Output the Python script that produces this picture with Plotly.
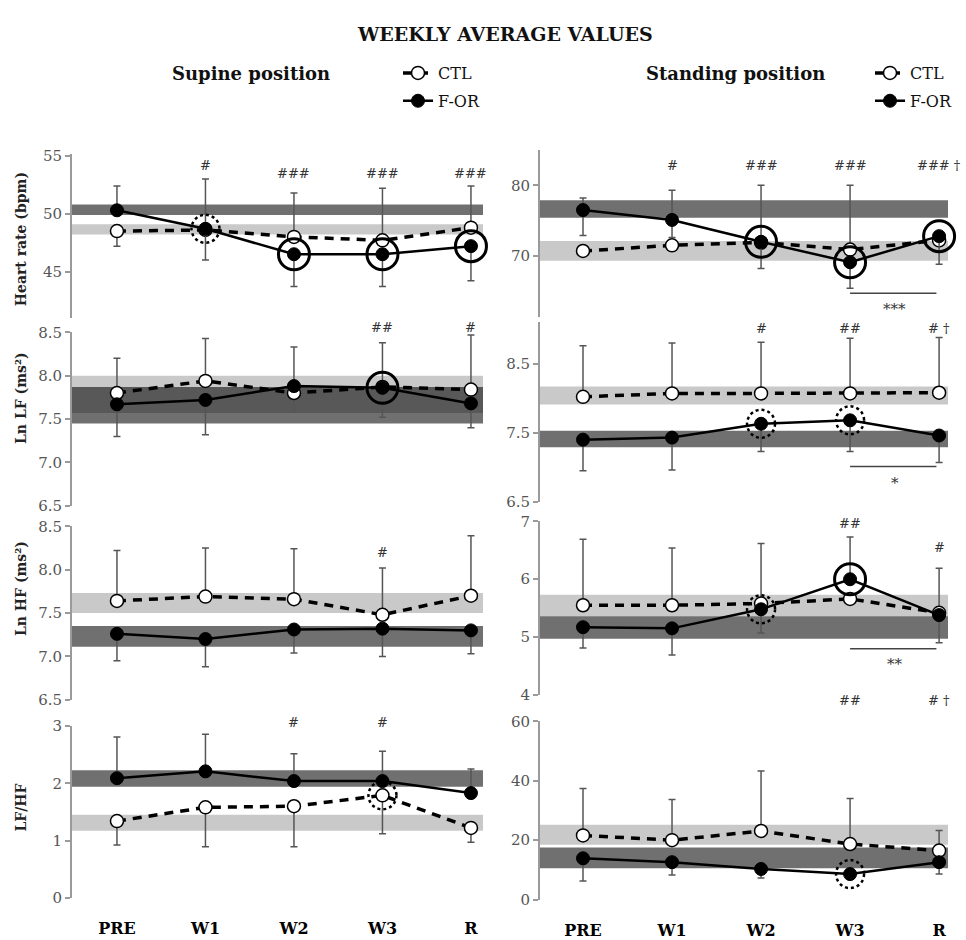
import plotly.graph_objects as go

W, H = 966, 940
categories = ["PRE", "W1", "W2", "W3", "R"]
xidx = list(range(len(categories)))

# ---------------- data ----------------
# Heart rate, supine
hr_sup_ctl = [48.5, 48.6, 48.0, 47.7, 48.8]
hr_sup_for = [50.3, 48.7, 46.5, 46.5, 47.2]
hr_sup_ctl_up = [0, 4.4, 3.8, 4.5, 3.6]
hr_sup_ctl_dn = [1.3, 0, 0, 0, 0]
hr_sup_for_up = [2.1, 0, 0, 0, 0]
hr_sup_for_dn = [0, 2.7, 2.8, 2.8, 3.0]
hr_sup_ctl_band = [48.2, 49.1]
hr_sup_for_band = [49.9, 50.8]
hr_sup_marks = ["", "#", "###", "###", "###"]

# Heart rate, standing
hr_sta_ctl = [70.7, 71.5, 71.9, 70.9, 72.2]
hr_sta_for = [76.5, 75.1, 72.0, 69.1, 72.8]
hr_sta_ctl_up = [0, 0, 8.1, 9.1, 0]
hr_sta_ctl_dn = [0, 0, 0, 0, 0]
hr_sta_for_up = [1.7, 4.2, 0, 0, 0]
hr_sta_for_dn = [3.6, 2.5, 3.8, 3.7, 4.0]
hr_sta_ctl_band = [69.3, 72.1]
hr_sta_for_band = [75.4, 77.9]
hr_sta_marks = ["", "#", "###", "###", "### \u2020"]

# Ln LF, supine
lf_sup_ctl = [7.80, 7.94, 7.80, 7.87, 7.84]
lf_sup_for = [7.67, 7.72, 7.88, 7.86, 7.68]
lf_sup_ctl_up = [0.40, 0.49, 0, 0.51, 0.63]
lf_sup_ctl_dn = [0, 0, 0.22, 0, 0]
lf_sup_for_up = [0, 0, 0.45, 0, 0]
lf_sup_for_dn = [0.37, 0.40, 0, 0.34, 0.28]
lf_sup_ctl_band = [7.57, 8.00]
lf_sup_for_band = [7.45, 7.87]
lf_sup_marks = ["", "", "", "##", "#"]

# Ln LF, standing
lf_sta_ctl = [8.02, 8.07, 8.07, 8.07, 8.08]
lf_sta_for = [7.40, 7.43, 7.63, 7.68, 7.46]
lf_sta_ctl_up = [0.74, 0.73, 0.74, 0.80, 0.80]
lf_sta_ctl_dn = [0, 0, 0, 0, 0]
lf_sta_for_up = [0, 0, 0, 0, 0]
lf_sta_for_dn = [0.45, 0.47, 0.40, 0.45, 0.39]
lf_sta_ctl_band = [7.91, 8.17]
lf_sta_for_band = [7.29, 7.53]
lf_sta_marks = ["", "", "#", "##", "# \u2020"]

# Ln HF, supine
hf_sup_ctl = [7.64, 7.69, 7.66, 7.48, 7.70]
hf_sup_for = [7.26, 7.20, 7.31, 7.32, 7.30]
hf_sup_ctl_up = [0.58, 0.56, 0.58, 0.54, 0.69]
hf_sup_ctl_dn = [0, 0, 0, 0, 0]
hf_sup_for_up = [0, 0, 0, 0, 0]
hf_sup_for_dn = [0.31, 0.32, 0.27, 0.32, 0.27]
hf_sup_ctl_band = [7.50, 7.73]
hf_sup_for_band = [7.11, 7.35]
hf_sup_marks = ["", "", "", "#", ""]

# Ln HF, standing
hf_sta_ctl = [5.55, 5.55, 5.58, 5.66, 5.42]
hf_sta_for = [5.17, 5.15, 5.48, 6.00, 5.38]
hf_sta_ctl_up = [1.14, 0.99, 1.04, 0, 0.77]
hf_sta_ctl_dn = [0, 0, 0, 0, 0]
hf_sta_for_up = [0, 0, 0, 0.73, 0]
hf_sta_for_dn = [0.36, 0.46, 0.41, 0, 0.48]
hf_sta_ctl_band = [5.36, 5.73]
hf_sta_for_band = [4.97, 5.36]
hf_sta_marks = ["", "", "", "##", "#"]

# LF/HF, supine
lh_sup_ctl = [1.34, 1.58, 1.60, 1.79, 1.22]
lh_sup_for = [2.09, 2.21, 2.04, 2.04, 1.83]
lh_sup_ctl_up = [0, 0, 0, 0, 0]
lh_sup_ctl_dn = [0.42, 0.69, 0.71, 0.67, 0.25]
lh_sup_for_up = [0.72, 0.65, 0.48, 0.52, 0.42]
lh_sup_for_dn = [0, 0, 0, 0, 0]
lh_sup_ctl_band = [1.17, 1.45]
lh_sup_for_band = [1.94, 2.23]
lh_sup_marks = ["", "", "#", "#", ""]

# LF/HF, standing
lh_sta_ctl = [21.6, 20.0, 23.1, 18.7, 16.5]
lh_sta_for = [13.9, 12.6, 10.3, 8.6, 12.6]
lh_sta_ctl_up = [15.8, 13.7, 20.2, 15.3, 6.8]
lh_sta_ctl_dn = [0, 0, 0, 0, 0]
lh_sta_for_up = [0, 0, 0, 0, 0]
lh_sta_for_dn = [7.6, 4.3, 3.0, 0, 4.0]
lh_sta_ctl_band = [18.5, 25.2]
lh_sta_for_band = [10.6, 17.5]
lh_sta_marks = ["", "", "", "##", "# \u2020"]

# significance circles: (series, index)
hr_sup_rings = [("for", 2), ("for", 3), ("for", 4)]
hr_sup_dotted = [("for", 1)]
hr_sta_rings = [("for", 2), ("for", 3), ("for", 4)]
lf_sup_rings = [("for", 3)]
lf_sta_dotted = [("for", 2), ("for", 3)]
hf_sta_rings = [("for", 3)]
hf_sta_dotted = [("for", 2)]
lh_sup_dotted = [("ctl", 3)]
lh_sta_dotted = [("for", 3)]

# W3 vs R comparisons (standing)
hr_sta_bracket = [3, 4, "***"]
lf_sta_bracket = [3, 4, "*"]
hf_sta_bracket = [3, 4, "**"]

y_titles = ["Heart rate (bpm)", "Ln LF (ms\u00b2)", "Ln HF (ms\u00b2)", "LF/HF"]

# ---------------- layout helpers ----------------
SERIF = "DejaVu Serif"
LIGHT = "rgba(0,0,0,0.21)"
DARK = "rgba(0,0,0,0.56)"

def ydom(va, pa, vb, pb, lo, hi):
    s = (pb - pa) / (vb - va)
    p_lo = pa + (lo - va) * s
    p_hi = pa + (hi - va) * s
    return [1 - p_lo / H, 1 - p_hi / H]

LEFT_X = dict(domain=[72 / W, 483 / W], range=[-0.508, 4.136])
RIGHT_X = dict(domain=[540 / W, 948 / W], range=[-0.483, 4.10])

panels = [
    dict(ctl=hr_sup_ctl, fr=hr_sup_for, cu=hr_sup_ctl_up, cd=hr_sup_ctl_dn, fu=hr_sup_for_up, fd=hr_sup_for_dn,
         cb=hr_sup_ctl_band, fb=hr_sup_for_band, marks=hr_sup_marks, marks_y=[0, 160, 168, 168, 168],
         rings=hr_sup_rings, dotted=hr_sup_dotted, bracket=None, side="L",
         cal=(55, 150, 45, 268), rng=[41, 55.2], tickvals=[45, 50, 55], fmt=None),
    dict(ctl=hr_sta_ctl, fr=hr_sta_for, cu=hr_sta_ctl_up, cd=hr_sta_ctl_dn, fu=hr_sta_for_up, fd=hr_sta_for_dn,
         cb=hr_sta_ctl_band, fb=hr_sta_for_band, marks=hr_sta_marks, marks_y=[0, 160, 160, 160, 160],
         rings=hr_sta_rings, dotted=[], bracket=(hr_sta_bracket, 290, 306), side="R",
         cal=(80, 180, 70, 252), rng=[61.3, 85], tickvals=[70, 80], fmt=None),
    dict(ctl=lf_sup_ctl, fr=lf_sup_for, cu=lf_sup_ctl_up, cd=lf_sup_ctl_dn, fu=lf_sup_for_up, fd=lf_sup_for_dn,
         cb=lf_sup_ctl_band, fb=lf_sup_for_band, marks=lf_sup_marks, marks_y=[0, 0, 0, 325, 325],
         rings=lf_sup_rings, dotted=[], bracket=None, side="L",
         cal=(8.5, 330, 6.5, 507), rng=[6.5, 8.5], tickvals=[6.5, 7.0, 7.5, 8.0, 8.5], fmt=".1f"),
    dict(ctl=lf_sta_ctl, fr=lf_sta_for, cu=lf_sta_ctl_up, cd=lf_sta_ctl_dn, fu=lf_sta_for_up, fd=lf_sta_for_dn,
         cb=lf_sta_ctl_band, fb=lf_sta_for_band, marks=lf_sta_marks, marks_y=[0, 0, 326, 326, 326],
         rings=[], dotted=lf_sta_dotted, bracket=(lf_sta_bracket, 467, 484), side="R",
         cal=(8.5, 362, 6.5, 503), rng=[6.5, 9.1], tickvals=[6.5, 7.5, 8.5], fmt=".1f"),
    dict(ctl=hf_sup_ctl, fr=hf_sup_for, cu=hf_sup_ctl_up, cd=hf_sup_ctl_dn, fu=hf_sup_for_up, fd=hf_sup_for_dn,
         cb=hf_sup_ctl_band, fb=hf_sup_for_band, marks=hf_sup_marks, marks_y=[0, 0, 0, 555, 0],
         rings=[], dotted=[], bracket=None, side="L",
         cal=(8.5, 528, 6.5, 705), rng=[6.5, 8.5], tickvals=[6.5, 7.0, 7.5, 8.0, 8.5], fmt=".1f"),
    dict(ctl=hf_sta_ctl, fr=hf_sta_for, cu=hf_sta_ctl_up, cd=hf_sta_ctl_dn, fu=hf_sta_for_up, fd=hf_sta_for_dn,
         cb=hf_sta_ctl_band, fb=hf_sta_for_band, marks=hf_sta_marks, marks_y=[0, 0, 0, 525, 550],
         rings=hf_sta_rings, dotted=hf_sta_dotted, bracket=(hf_sta_bracket, 653, 669), side="R",
         cal=(7, 523, 4, 700), rng=[4, 7], tickvals=[4, 5, 6, 7], fmt=None),
    dict(ctl=lh_sup_ctl, fr=lh_sup_for, cu=lh_sup_ctl_up, cd=lh_sup_ctl_dn, fu=lh_sup_for_up, fd=lh_sup_for_dn,
         cb=lh_sup_ctl_band, fb=lh_sup_for_band, marks=lh_sup_marks, marks_y=[0, 0, 728, 728, 0],
         rings=[], dotted=lh_sup_dotted, bracket=None, side="L",
         cal=(3, 732, 0, 907), rng=[0, 3], tickvals=[0, 1, 2, 3], fmt=None),
    dict(ctl=lh_sta_ctl, fr=lh_sta_for, cu=lh_sta_ctl_up, cd=lh_sta_ctl_dn, fu=lh_sta_for_up, fd=lh_sta_for_dn,
         cb=lh_sta_ctl_band, fb=lh_sta_for_band, marks=lh_sta_marks, marks_y=[0, 0, 0, 706, 706],
         rings=[], dotted=lh_sta_dotted, bracket=None, side="R",
         cal=(60, 727, 0, 909), rng=[0, 60], tickvals=[0, 20, 40, 60], fmt=None),
]

fig = go.Figure()
shapes, annotations = [], []
layout = dict(width=W, height=H, margin=dict(l=0, r=0, t=0, b=0),
              paper_bgcolor="white", plot_bgcolor="white", showlegend=True)

for k, p in enumerate(panels, start=1):
    sfx = "" if k == 1 else str(k)
    xa, ya = "x" + sfx, "y" + sfx
    xbase = LEFT_X if p["side"] == "L" else RIGHT_X
    bottom = k >= 7
    layout["xaxis" + sfx] = dict(
        domain=xbase["domain"], range=xbase["range"], anchor=ya,
        showline=False, showgrid=False, zeroline=False,
        tickmode="array", tickvals=xidx, ticktext=categories,
        showticklabels=bottom, ticks="outside" if bottom else "", ticklen=16,
        tickcolor="rgba(0,0,0,0)",
        tickfont=dict(family=SERIF, size=16, color="black", weight="bold"))
    va, pa, vb, pb = p["cal"]
    ydef = dict(
        domain=ydom(va, pa, vb, pb, p["rng"][0], p["rng"][1]), range=p["rng"], anchor=xa,
        showline=True, linecolor="#9a9a9a", linewidth=2, showgrid=False, zeroline=False,
        ticks="outside", ticklen=5, tickwidth=1.5, tickcolor="#9a9a9a",
        tickmode="array", tickvals=p["tickvals"],
        tickfont=dict(family=SERIF, size=15, color="#555"))
    if p["fmt"]:
        ydef["tickformat"] = p["fmt"]
    layout["yaxis" + sfx] = ydef

    # reference bands
    for band, col in ((p["cb"], LIGHT), (p["fb"], DARK)):
        shapes.append(dict(type="rect", xref=xa + " domain", yref=ya, x0=0, x1=1,
                           y0=band[0], y1=band[1], fillcolor=col, line=dict(width=0), layer="below"))

    legend_name = "legend" if p["side"] == "L" else "legend2"
    first = k in (1, 2)
    # CTL
    fig.add_trace(go.Scatter(
        x=xidx, y=p["ctl"], xaxis=xa, yaxis=ya, name="CTL", legend=legend_name,
        legendgroup="ctl" + p["side"], showlegend=first, mode="lines+markers", cliponaxis=False,
        line=dict(color="black", width=3.5, dash="9px,7px"),
        marker=dict(symbol="circle", size=13, color="white", line=dict(color="black", width=1.5)),
        error_y=dict(type="data", symmetric=False, array=p["cu"], arrayminus=p["cd"],
                     color="#555", thickness=1.5, width=3.5)))
    # F-OR
    fig.add_trace(go.Scatter(
        x=xidx, y=p["fr"], xaxis=xa, yaxis=ya, name="F-OR", legend=legend_name,
        legendgroup="for" + p["side"], showlegend=first, mode="lines+markers", cliponaxis=False,
        line=dict(color="black", width=2.5),
        marker=dict(symbol="circle", size=13, color="black", line=dict(color="black", width=1)),
        error_y=dict(type="data", symmetric=False, array=p["fu"], arrayminus=p["fd"],
                     color="#555", thickness=1.5, width=3.5)))

    series = {"ctl": p["ctl"], "for": p["fr"]}
    if p["rings"]:
        fig.add_trace(go.Scatter(
            x=[xidx[i] for _, i in p["rings"]], y=[series[s][i] for s, i in p["rings"]],
            xaxis=xa, yaxis=ya, mode="markers", showlegend=False, hoverinfo="skip", cliponaxis=False,
            marker=dict(symbol="circle-open", size=31, color="black", line=dict(color="black", width=3))))
    for ser, i in p["dotted"]:
        shapes.append(dict(type="circle", xref=xa, yref=ya, xsizemode="pixel", ysizemode="pixel",
                           xanchor=xidx[i], yanchor=series[ser][i], x0=-14, x1=14, y0=-14, y1=14,
                           line=dict(color="black", width=2.5, dash="dot"), layer="above"))

    for i, (txt, ypx) in enumerate(zip(p["marks"], p["marks_y"])):
        if txt:
            annotations.append(dict(text=txt, x=xidx[i], xref=xa, y=1 - ypx / H, yref="paper",
                                    showarrow=False, xanchor="center", yanchor="middle",
                                    font=dict(family=SERIF, size=13, color="#333")))
    if p["bracket"]:
        (i0, i1, stars), ly, sy = p["bracket"]
        shapes.append(dict(type="line", xref=xa, yref="paper", x0=xidx[i0], x1=xidx[i1] - 0.03,
                           y0=1 - ly / H, y1=1 - ly / H, line=dict(color="#444", width=1.5)))
        annotations.append(dict(text=stars, x=(xidx[i0] + xidx[i1]) / 2, xref=xa, y=1 - sy / H,
                                yref="paper", showarrow=False, yanchor="middle",
                                font=dict(family=SERIF, size=15, color="#333")))

# y-axis titles (left column)
for txt, ycen in zip(y_titles, [235, 397, 592, 815]):
    annotations.append(dict(text="<b>" + txt + "</b>", x=21 / W, y=1 - ycen / H, xref="paper", yref="paper",
                            textangle=-90, showarrow=False, xanchor="center", yanchor="middle",
                            font=dict(family=SERIF, size=14, color="#222")))

annotations.append(dict(text="<b>WEEKLY AVERAGE VALUES</b>", x=505 / W, y=1 - 26 / H, xref="paper",
                        yref="paper", showarrow=False, xanchor="center", yanchor="middle",
                        font=dict(family=SERIF, size=19, color="#111")))
annotations.append(dict(text="<b>Supine position</b>", x=251 / W, y=1 - 66 / H, xref="paper",
                        yref="paper", showarrow=False, xanchor="center", yanchor="middle",
                        font=dict(family=SERIF, size=18, color="#111")))
annotations.append(dict(text="<b>Standing position</b>", x=735 / W, y=1 - 66 / H, xref="paper",
                        yref="paper", showarrow=False, xanchor="center", yanchor="middle",
                        font=dict(family=SERIF, size=18, color="#111")))

leg = dict(xanchor="left", yanchor="top", bgcolor="rgba(0,0,0,0)", borderwidth=0,
           font=dict(family=SERIF, size=16, color="#111"), itemwidth=30,
           tracegroupgap=4, traceorder="grouped")
layout["legend"] = dict(leg, x=398 / W, y=1 - 48 / H)
layout["legend2"] = dict(leg, x=870 / W, y=1 - 48 / H)

layout["shapes"] = shapes
layout["annotations"] = annotations
fig.update_layout(**layout)
fig.write_html("out.html")
